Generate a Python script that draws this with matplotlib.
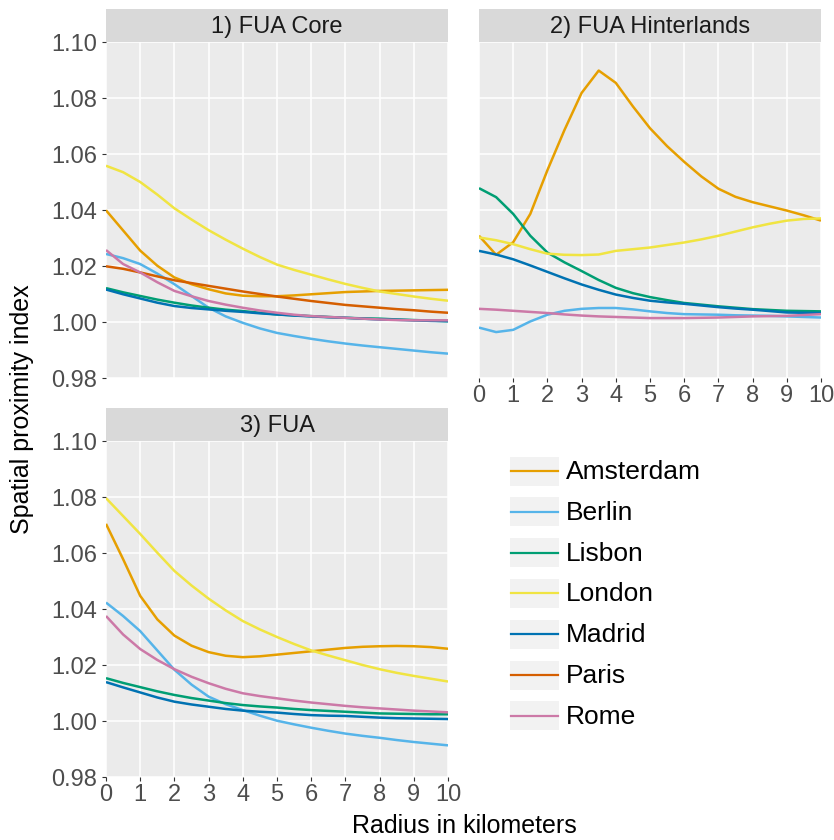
import numpy as np
import matplotlib
matplotlib.use("Agg")
import matplotlib.pyplot as plt
from matplotlib.patches import Rectangle

plt.rcParams['font.family'] = ['Liberation Sans', 'DejaVu Sans']

# radius grid, half-km steps
radius = [i * 0.5 for i in range(21)]
cities = ["Amsterdam", "Berlin", "Lisbon", "London", "Madrid", "Paris", "Rome"]
colors = ["#E69F00", "#56B4E9", "#009E73", "#F0E442", "#0072B2", "#D55E00", "#CC79A7"]

# 1) FUA Core
core_amsterdam = [1.0399, 1.0327, 1.0255, 1.0201, 1.0159, 1.0135, 1.0117, 1.0102, 1.0094, 1.0092, 1.0092,
                  1.0095, 1.0099, 1.0103, 1.0107, 1.0109, 1.0111, 1.0112, 1.0113, 1.0114, 1.0115]
core_berlin = [1.0243, 1.0228, 1.0207, 1.0173, 1.0135, 1.0093, 1.0051, 1.0020, 0.9997, 0.9977, 0.9961,
               0.9950, 0.9940, 0.9931, 0.9923, 0.9916, 0.9910, 0.9904, 0.9898, 0.9892, 0.9887]
core_lisbon = [1.0121, 1.0106, 1.0093, 1.0080, 1.0069, 1.0059, 1.0051, 1.0044, 1.0039, 1.0033, 1.0027,
               1.0024, 1.0021, 1.0018, 1.0015, 1.0013, 1.0012, 1.0009, 1.0007, 1.0005, 1.0003]
core_london = [1.0558, 1.0535, 1.0500, 1.0455, 1.0406, 1.0366, 1.0328, 1.0294, 1.0262, 1.0232, 1.0205,
               1.0186, 1.0169, 1.0152, 1.0136, 1.0122, 1.0109, 1.0100, 1.0091, 1.0083, 1.0076]
core_madrid = [1.0116, 1.0099, 1.0084, 1.0069, 1.0057, 1.0050, 1.0045, 1.0040, 1.0036, 1.0031, 1.0027,
               1.0023, 1.0020, 1.0017, 1.0015, 1.0012, 1.0009, 1.0008, 1.0006, 1.0004, 1.0003]
core_paris = [1.0199, 1.0190, 1.0177, 1.0163, 1.0149, 1.0139, 1.0129, 1.0119, 1.0109, 1.0100, 1.0091,
              1.0083, 1.0075, 1.0068, 1.0061, 1.0056, 1.0051, 1.0046, 1.0042, 1.0037, 1.0033]
core_rome = [1.0257, 1.0207, 1.0177, 1.0142, 1.0111, 1.0092, 1.0075, 1.0062, 1.0051, 1.0041, 1.0033,
             1.0026, 1.0021, 1.0018, 1.0015, 1.0012, 1.0009, 1.0007, 1.0006, 1.0006, 1.0006]

# 2) FUA Hinterlands (no Paris here)
hint_amsterdam = [1.0308, 1.0240, 1.0285, 1.0386, 1.0542, 1.0686, 1.0818, 1.0898, 1.0854, 1.0770, 1.0692,
                  1.0628, 1.0572, 1.0520, 1.0476, 1.0447, 1.0428, 1.0413, 1.0398, 1.0381, 1.0362]
hint_berlin = [0.9980, 0.9964, 0.9972, 1.0002, 1.0026, 1.0040, 1.0047, 1.0050, 1.0050, 1.0045, 1.0038,
               1.0032, 1.0028, 1.0027, 1.0026, 1.0024, 1.0023, 1.0022, 1.0020, 1.0018, 1.0016]
hint_lisbon = [1.0478, 1.0446, 1.0386, 1.0308, 1.0248, 1.0213, 1.0182, 1.0150, 1.0122, 1.0103, 1.0089,
               1.0078, 1.0068, 1.0062, 1.0056, 1.0051, 1.0046, 1.0043, 1.0040, 1.0039, 1.0038]
hint_london = [1.0302, 1.0292, 1.0278, 1.0260, 1.0244, 1.0240, 1.0239, 1.0241, 1.0254, 1.0260, 1.0266,
               1.0275, 1.0284, 1.0295, 1.0308, 1.0323, 1.0338, 1.0351, 1.0362, 1.0368, 1.0370]
hint_madrid = [1.0254, 1.0241, 1.0224, 1.0202, 1.0179, 1.0156, 1.0134, 1.0115, 1.0098, 1.0086, 1.0076,
               1.0070, 1.0065, 1.0059, 1.0053, 1.0048, 1.0044, 1.0039, 1.0034, 1.0033, 1.0032]
hint_paris = None
hint_rome = [1.0047, 1.0044, 1.0040, 1.0036, 1.0032, 1.0027, 1.0023, 1.0020, 1.0018, 1.0016, 1.0014,
             1.0014, 1.0014, 1.0015, 1.0016, 1.0018, 1.0020, 1.0021, 1.0022, 1.0025, 1.0028]

# 3) FUA (no Paris here either)
fua_amsterdam = [1.0704, 1.0578, 1.0447, 1.0363, 1.0305, 1.0269, 1.0246, 1.0233, 1.0228, 1.0231, 1.0237,
                 1.0243, 1.0249, 1.0255, 1.0261, 1.0265, 1.0267, 1.0268, 1.0267, 1.0264, 1.0258]
fua_berlin = [1.0423, 1.0375, 1.0321, 1.0252, 1.0183, 1.0130, 1.0087, 1.0060, 1.0039, 1.0019, 1.0001,
              0.9988, 0.9976, 0.9965, 0.9955, 0.9947, 0.9940, 0.9932, 0.9925, 0.9919, 0.9913]
fua_lisbon = [1.0153, 1.0136, 1.0121, 1.0106, 1.0093, 1.0082, 1.0073, 1.0064, 1.0057, 1.0052, 1.0048,
              1.0043, 1.0039, 1.0036, 1.0033, 1.0030, 1.0027, 1.0026, 1.0025, 1.0024, 1.0024]
fua_london = [1.0796, 1.0732, 1.0668, 1.0601, 1.0536, 1.0484, 1.0437, 1.0395, 1.0357, 1.0327, 1.0300,
              1.0275, 1.0252, 1.0234, 1.0217, 1.0200, 1.0185, 1.0172, 1.0161, 1.0151, 1.0141]
fua_madrid = [1.0139, 1.0120, 1.0102, 1.0084, 1.0069, 1.0059, 1.0051, 1.0043, 1.0037, 1.0033, 1.0030,
              1.0025, 1.0021, 1.0019, 1.0018, 1.0015, 1.0012, 1.0010, 1.0009, 1.0008, 1.0007]
fua_paris = None
fua_rome = [1.0375, 1.0309, 1.0257, 1.0218, 1.0185, 1.0158, 1.0135, 1.0115, 1.0099, 1.0089, 1.0081,
            1.0073, 1.0066, 1.0060, 1.0054, 1.0049, 1.0045, 1.0041, 1.0037, 1.0034, 1.0031]

panels = [
    ("1) FUA Core", [core_amsterdam, core_berlin, core_lisbon, core_london, core_madrid, core_paris, core_rome]),
    ("2) FUA Hinterlands", [hint_amsterdam, hint_berlin, hint_lisbon, hint_london, hint_madrid, hint_paris, hint_rome]),
    ("3) FUA", [fua_amsterdam, fua_berlin, fua_lisbon, fua_london, fua_madrid, fua_paris, fua_rome]),
]

W, H = 834, 840
fig = plt.figure(figsize=(W / 100, H / 100), dpi=100)

# panel boxes in pixels: left, top, width, height
boxes = [(106, 42, 342, 336), (479, 42, 342, 336), (106, 441, 342, 336)]
strip_h = 33
yticks = [0.98, 1.00, 1.02, 1.04, 1.06, 1.08, 1.10]

for i, ((title, series), (l, t, w, h)) in enumerate(zip(panels, boxes)):
    ax = fig.add_axes([l / W, 1 - (t + h) / H, w / W, h / H])
    ax.set_facecolor("#EBEBEB")
    for s in ax.spines.values():
        s.set_visible(False)
    ax.set_xlim(0, 10)
    ax.set_ylim(0.98, 1.10)
    ax.set_xticks(range(11))
    ax.set_yticks(yticks)
    ax.grid(True, color="white", linewidth=1.1)
    ax.set_axisbelow(True)
    ax.tick_params(colors="#333333", labelcolor="#4D4D4D", labelsize=17, length=3, width=0.8)
    ax.tick_params(axis="x", pad=2)
    if i == 0:
        ax.tick_params(axis="x", bottom=False, labelbottom=False)
        ax.set_yticklabels([f"{v:.2f}" for v in yticks])
    elif i == 1:
        ax.tick_params(axis="y", left=False, labelleft=False)
    else:
        ax.set_yticklabels([f"{v:.2f}" for v in yticks])

    for name, col, vals in zip(cities, colors, series):
        if vals is None:
            continue
        ax.plot(radius, vals, color=col, linewidth=1.8, solid_capstyle="butt",
                solid_joinstyle="round")

    sax = fig.add_axes([l / W, 1 - t / H, w / W, strip_h / H])
    sax.set_facecolor("#D9D9D9")
    sax.set_xticks([])
    sax.set_yticks([])
    for s in sax.spines.values():
        s.set_visible(False)
    sax.text(0.5, 0.45, title, ha="center", va="center", fontsize=17, color="#1A1A1A",
             transform=sax.transAxes)

# legend drawn by hand, ggplot-like grey keys
lax = fig.add_axes([0, 0, 1, 1], facecolor="none")
lax.set_xlim(0, W)
lax.set_ylim(H, 0)
lax.axis("off")
for k, (name, col) in enumerate(zip(cities, colors)):
    yc = 471 + k * 40.8
    lax.add_patch(Rectangle((510, yc - 14.5), 49, 29, facecolor="#F2F2F2", edgecolor="none"))
    lax.plot([511, 558], [yc, yc], color=col, linewidth=1.6)
    lax.text(566, yc + 1, name, ha="left", va="center", fontsize=19, color="black")

fig.text(464 / W, 1 - 826 / H, "Radius in kilometers", ha="center", va="center", fontsize=18)
fig.text(22 / W, 1 - 409 / H, "Spatial proximity index", ha="center", va="center",
         rotation=90, fontsize=18)

fig.savefig("out.png", dpi=100, facecolor="white")
